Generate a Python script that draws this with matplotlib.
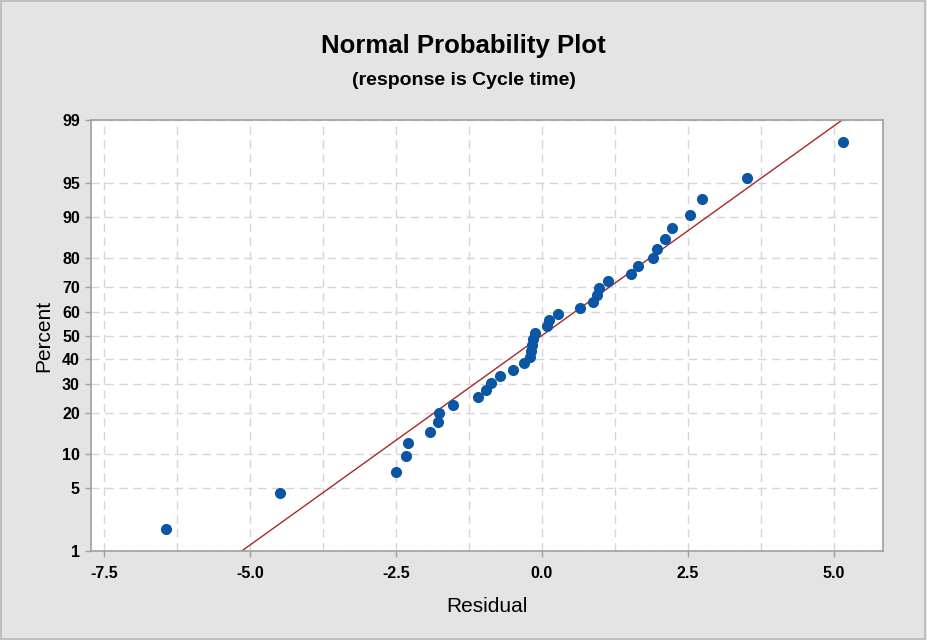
import numpy as np
import matplotlib
matplotlib.use("Agg")
import matplotlib.pyplot as plt
from matplotlib.patches import Rectangle
from matplotlib.ticker import FixedLocator, MultipleLocator
from statistics import NormalDist

# residuals, sorted
residuals = [-6.44, -4.48, -2.49, -2.33, -2.29, -1.91, -1.78, -1.77, -1.53, -1.09,
             -0.95, -0.88, -0.71, -0.50, -0.31, -0.21, -0.18, -0.17, -0.16, -0.11,
             0.09, 0.12, 0.28, 0.66, 0.87, 0.95, 0.97, 1.13, 1.53, 1.64,
             1.91, 1.97, 2.10, 2.22, 2.53, 2.74, 3.51, 5.16]
# plotted percent for each residual
percents = [1.82, 4.43, 7.03, 9.64, 12.24, 14.84, 17.45, 20.05, 22.66, 25.26,
            27.86, 30.47, 33.07, 35.68, 38.28, 40.89, 43.49, 46.09, 48.70, 51.30,
            53.91, 56.51, 59.11, 61.72, 64.32, 66.93, 69.53, 72.14, 74.74, 77.34,
            79.95, 82.55, 85.16, 87.76, 90.36, 92.97, 95.57, 98.18]
# fitted normal line
fit_mean = 0.0
fit_sd = 2.21
line_percents = [1, 99]

y_ticks = [1, 5, 10, 20, 30, 40, 50, 60, 70, 80, 90, 95, 99]
x_ticks = [-7.5, -5.0, -2.5, 0.0, 2.5, 5.0]

nd = NormalDist()
_ppf = np.vectorize(lambda p: nd.inv_cdf(min(max(p / 100.0, 1e-9), 1 - 1e-9)), otypes=[float])
_cdf = np.vectorize(lambda z: nd.cdf(z) * 100.0, otypes=[float])


def forward(p):
    return _ppf(np.asarray(p, dtype=float))


def inverse(z):
    return _cdf(np.asarray(z, dtype=float))


plt.rcParams['font.family'] = ['Liberation Sans', 'DejaVu Sans']

bg = '#e4e4e4'
fig = plt.figure(figsize=(9.27, 6.4), dpi=100, facecolor=bg)
fig.patches.append(Rectangle((0.001, 0.001), 0.997, 0.997, transform=fig.transFigure,
                             fill=False, edgecolor='#b8b8b8', linewidth=1.2))

ax = fig.add_axes([0.0982, 0.139, 0.8543, 0.6735])
ax.set_facecolor('white')
ax.set_yscale('function', functions=(forward, inverse))
ax.set_ylim(1, 99)
ax.set_xlim(-7.72, 5.84)

ax.yaxis.set_major_locator(FixedLocator(y_ticks))
ax.set_yticklabels([str(t) for t in y_ticks])
ax.yaxis.set_minor_locator(FixedLocator([]))
ax.xaxis.set_major_locator(FixedLocator(x_ticks))
ax.set_xticklabels(['%.1f' % t for t in x_ticks])
ax.xaxis.set_minor_locator(MultipleLocator(1.25))

ax.grid(True, which='both', axis='x', color='#d6d6d6', linestyle=(0, (6, 4)), linewidth=1)
ax.grid(True, which='major', axis='y', color='#d6d6d6', linestyle=(0, (6, 4)), linewidth=1)
ax.set_axisbelow(True)

for s in ax.spines.values():
    s.set_color('#a0a0a0')
    s.set_linewidth(1.2)

ax.tick_params(axis='both', which='major', direction='out', length=4, color='#a0a0a0',
               labelsize=11.5, width=1)
ax.tick_params(axis='x', which='major', pad=7)
ax.tick_params(axis='y', which='major', pad=4)
ax.tick_params(axis='x', which='minor', length=0)
for lab in ax.get_xticklabels() + ax.get_yticklabels():
    lab.set_fontweight('bold')

# fitted line
line_x = [fit_mean + fit_sd * nd.inv_cdf(p / 100.0) for p in line_percents]
ax.plot(line_x, line_percents, color='#a8282a', linewidth=1.0, zorder=2)

ax.plot(residuals, percents, linestyle='none', marker='o', markersize=7,
        color='#0a56a5', markeredgecolor='#0a56a5', zorder=3)

ax.set_xlabel('Residual', fontsize=15, labelpad=11)
ax.set_ylabel('Percent', fontsize=15, labelpad=6)

fig.text(0.5, 0.928, 'Normal Probability Plot', ha='center', va='center',
         fontsize=18.5, fontweight='bold')
fig.text(0.5, 0.874, '(response is Cycle time)', ha='center', va='center',
         fontsize=14, fontweight='bold')

fig.savefig('out.png', dpi=100, facecolor=bg)
